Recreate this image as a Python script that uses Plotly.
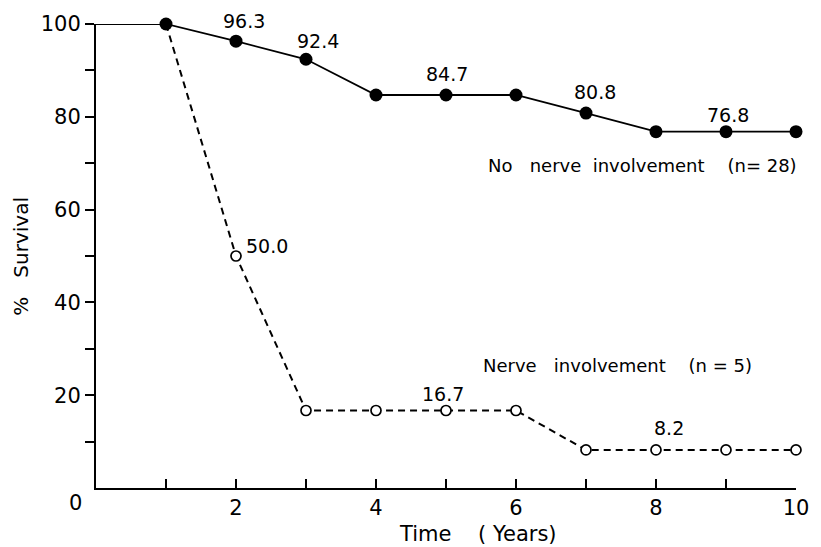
import plotly.graph_objects as go

# ---- data ----
years = [0, 1, 2, 3, 4, 5, 6, 7, 8, 9, 10]
no_nerve = [100, 100, 96.3, 92.4, 84.7, 84.7, 84.7, 80.8, 76.8, 76.8, 76.8]
nerve_years = [1, 2, 3, 4, 5, 6, 7, 8, 9, 10]
nerve = [100, 50.0, 16.7, 16.7, 16.7, 16.7, 8.2, 8.2, 8.2, 8.2]

no_nerve_labelled = [2, 3, 5, 7, 9]
nerve_labelled = [2, 5, 8]

x_tick_vals = [2, 4, 6, 8, 10]
x_minor_vals = [1, 3, 5, 7, 9]
y_tick_vals = [20, 40, 60, 80, 100]
y_minor_vals = [10, 30, 50, 70, 90]

FONT = "DejaVu Sans"

fig = go.Figure()

# nerve involvement (dashed, open circles)
fig.add_trace(go.Scatter(
    x=nerve_years, y=nerve, mode="lines+markers",
    line=dict(color="black", width=2, dash="7px,5px"),
    marker=dict(symbol="circle", color="white", opacity=1,
                size=[0] + [10] * (len(nerve) - 1),
                line=dict(color="black", width=1.7)),
    cliponaxis=False, showlegend=False, hoverinfo="skip"))

# no nerve involvement (solid, filled)
fig.add_trace(go.Scatter(
    x=years, y=no_nerve, mode="lines+markers",
    line=dict(color="black", width=1.8),
    marker=dict(symbol="circle", color="black", opacity=1,
                size=[0] + [13] * (len(no_nerve) - 1),
                line=dict(color="black", width=0)),
    cliponaxis=False, showlegend=False, hoverinfo="skip"))

annotations = []
label_font = dict(family=FONT, size=19, color="black")
nn_shift = {2: (8, 20), 3: (12, 18), 5: (1, 21), 7: (9, 21), 9: (2, 17)}
for xv in no_nerve_labelled:
    yv = no_nerve[years.index(xv)]
    dx, dy = nn_shift[xv]
    annotations.append(dict(x=xv, y=yv, text=f"{yv:.1f}", showarrow=False,
                            xshift=dx, yshift=dy, font=label_font,
                            xanchor="center", yanchor="middle"))
n_shift = {2: (8, 10, "left"), 5: (-3, 17, "center"), 8: (13, 22, "center")}
for xv in nerve_labelled:
    yv = nerve[nerve_years.index(xv)]
    dx, dy, anc = n_shift[xv]
    annotations.append(dict(x=xv, y=yv, text=f"{yv:.1f}", showarrow=False,
                            xshift=dx, yshift=dy, font=label_font,
                            xanchor=anc, yanchor="middle"))

nb = "\u00a0"
text_font = dict(family=FONT, size=18, color="black")
annotations.append(dict(x=5.57, y=69.6, xref="x", yref="y",
                        text=f"No{nb*3}nerve{nb*2}involvement{nb*4}(n={nb}28)",
                        showarrow=False, xanchor="left", yanchor="middle", font=text_font))
annotations.append(dict(x=5.50, y=26.5, xref="x", yref="y",
                        text=f"Nerve{nb*3}involvement{nb*4}(n{nb}={nb}5)",
                        showarrow=False, xanchor="left", yanchor="middle", font=text_font))
# axis titles
annotations.append(dict(x=-0.1075, y=0.50, xref="paper", yref="paper",
                        text=f"%{nb*3}Survival", textangle=-90, showarrow=False,
                        xanchor="center", yanchor="middle",
                        font=dict(family=FONT, size=20, color="black")))
annotations.append(dict(x=0.546, y=-0.099, xref="paper", yref="paper",
                        text=f"Time{nb*4}({nb}Years)", showarrow=False,
                        xanchor="center", yanchor="middle",
                        font=dict(family=FONT, size=21, color="black")))
# origin label
annotations.append(dict(x=0, y=0, xref="x", yref="y", text="0", showarrow=False,
                        xanchor="center", yanchor="middle", xshift=-21, yshift=-15,
                        font=dict(family=FONT, size=21, color="black")))

fig.update_layout(
    width=821, height=547,
    margin=dict(l=96, r=18, t=24, b=59),
    paper_bgcolor="white", plot_bgcolor="white",
    annotations=annotations,
    xaxis=dict(range=[0, 10], showgrid=False, zeroline=False,
               showline=True, linecolor="black", linewidth=2,
               tickvals=x_tick_vals, ticks="inside", ticklen=9, tickwidth=1.5,
               tickcolor="black", ticklabelstandoff=0,
               minor=dict(tickvals=x_minor_vals, ticks="inside", ticklen=9,
                          tickwidth=1.5, tickcolor="black"),
               tickfont=dict(family=FONT, size=21, color="black")),
    yaxis=dict(range=[0, 100], showgrid=False, zeroline=False,
               showline=True, linecolor="black", linewidth=2,
               tickvals=y_tick_vals, ticks="outside", ticklen=9, tickwidth=1.5,
               tickcolor="black",
               minor=dict(tickvals=y_minor_vals, ticks="outside", ticklen=9,
                          tickwidth=1.5, tickcolor="black"),
               tickfont=dict(family=FONT, size=21, color="black")),
)

fig.write_html("out.html")
